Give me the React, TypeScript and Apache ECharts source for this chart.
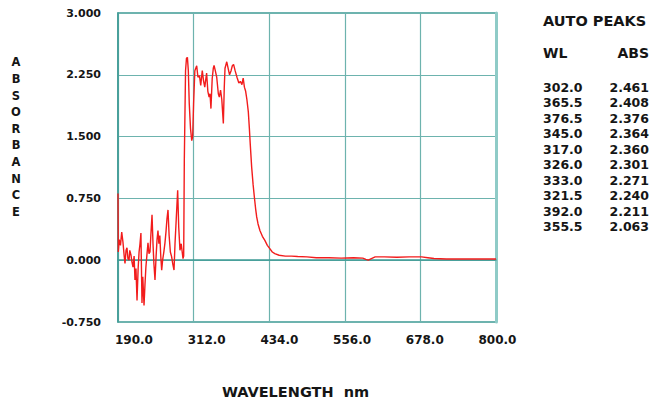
import React, { useEffect, useRef } from "react";
import * as echarts from "echarts";

const wavelengths = [
  190, 190.5, 192, 194, 196, 198, 200, 201.3, 203, 204.5, 206, 207.8, 209, 211, 212.5, 214.2, 216, 217.4, 219, 220.7,
  222.5, 224, 225.5, 227, 228.7, 230, 232, 233.5, 235, 236.5, 238.4, 240, 241.6, 243, 244.9, 246.5, 248, 249.7, 251.5,
  253, 254.5, 256, 257.5, 259, 260.5, 262, 264, 265.8, 267.5, 269, 270.7, 272.5, 274.5, 276.6, 278.5, 280.4, 282, 284,
  286.3, 288, 290, 292, 294.9, 296, 297, 299, 300.5, 302, 303.5, 305, 307, 309, 310.5, 312, 314, 317, 319, 321.5, 323.5,
  326, 328, 330, 333, 335, 337, 338.5, 340, 342, 343.8, 345, 347, 349.3, 351.9, 353.5, 355.5, 357.5, 360, 361.5, 362.7,
  365.5, 368, 370, 372.5, 374.5, 376.5, 379, 382, 385, 387.5, 390, 392, 394, 396, 398, 400.3, 402, 403.5, 405.7, 408,
  410, 412, 413.8, 416, 419, 423, 427, 431, 435, 439, 443, 450, 460, 470, 480, 495, 510, 530, 550, 570, 585, 590, 594,
  598, 605, 620, 640, 660, 680, 690, 700, 720, 750, 780, 800,
];
const absorbance = [
  0.81, 0.1, 0.25, 0.18, 0.34, 0.22, 0.05, -0.04, 0.12, 0.15, 0.02, 0.0, 0.12, 0.06, -0.02, -0.085, 0.05, -0.24, -0.1,
  -0.49, -0.1, 0.1, 0.2, 0.33, -0.52, -0.2, -0.55, -0.3, -0.085, 0.05, 0.21, 0.08, 0.1, 0.3, 0.55, 0.2, -0.05, -0.24,
  0.05, 0.25, 0.36, 0.2, 0.3, 0.05, -0.12, 0.0, 0.1, 0.21, 0.35, 0.5, 0.61, 0.3, 0.1, 0.04, -0.05, -0.12, 0.2, 0.5,
  0.85, 0.4, 0.12, 0.2, 0.02, 0.05, 1.2, 2.3, 2.45, 2.461, 2.3, 1.9, 1.6, 1.45, 1.5, 1.9, 2.3, 2.36, 2.22, 2.24, 2.12,
  2.301, 2.18, 2.1, 2.271, 2.05, 1.98, 2.02, 1.84, 2.2, 2.33, 2.364, 2.3, 2.22, 2.02, 1.98, 2.063, 1.95, 1.66, 2.1,
  2.33, 2.408, 2.32, 2.25, 2.3, 2.36, 2.376, 2.3, 2.22, 2.15, 2.17, 2.13, 2.211, 2.1, 2.05, 1.95, 1.8, 1.6, 1.4, 1.13,
  0.92, 0.77, 0.63, 0.525, 0.44, 0.36, 0.29, 0.24, 0.18, 0.14, 0.1, 0.08, 0.06, 0.05, 0.05, 0.045, 0.04, 0.03, 0.03,
  0.025, 0.03, 0.025, 0.01, 0.0, 0.015, 0.04, 0.04, 0.035, 0.04, 0.04, 0.03, 0.02, 0.015, 0.015, 0.015, 0.015,
];

const xTickLabels = ["190.0", "312.0", "434.0", "556.0", "678.0", "800.0"];
const yTickLabels = ["-0.750", "0.000", "0.750", "1.500", "2.250", "3.000"];

const peakWL = ["302.0", "365.5", "376.5", "345.0", "317.0", "326.0", "333.0", "321.5", "392.0", "355.5"];
const peakAbs = ["2.461", "2.408", "2.376", "2.364", "2.360", "2.301", "2.271", "2.240", "2.211", "2.063"];

const FONT = "DejaVu Sans";
const TEAL = "#3e9a95";
const GRIDLINE = "#6db3ae";
const TEXT = "#151515";

export default function App() {
  const ref = useRef<HTMLDivElement>(null);

  useEffect(() => {
    if (!ref.current) return;
    const chart = echarts.init(ref.current, null, { renderer: "svg" });
    const data = wavelengths.map((w, i) => [w, absorbance[i]]);

    const graphics: any[] = [];
    graphics.push({
      type: "text",
      x: 543,
      y: 21,
      style: { text: "AUTO PEAKS", font: `bold 14.5px "${FONT}"`, fill: TEXT, textVerticalAlign: "middle", textAlign: "left" },
    });
    graphics.push({
      type: "text",
      x: 543,
      y: 53,
      style: { text: "WL", font: `bold 14px "${FONT}"`, fill: TEXT, textVerticalAlign: "middle", textAlign: "left" },
    });
    graphics.push({
      type: "text",
      x: 649,
      y: 53,
      style: { text: "ABS", font: `bold 14px "${FONT}"`, fill: TEXT, textVerticalAlign: "middle", textAlign: "right" },
    });
    peakWL.forEach((w, i) => {
      const y = 87.5 + 15.45 * i;
      graphics.push({
        type: "text",
        x: 543,
        y,
        style: { text: w, font: `bold 12.5px "${FONT}"`, fill: TEXT, textVerticalAlign: "middle", textAlign: "left" },
      });
      graphics.push({
        type: "text",
        x: 649,
        y,
        style: { text: peakAbs[i], font: `bold 12.5px "${FONT}"`, fill: TEXT, textVerticalAlign: "middle", textAlign: "right" },
      });
    });
    graphics.push({
      type: "text",
      x: 16,
      y: 137,
      style: {
        text: "A\nB\nS\nO\nR\nB\nA\nN\nC\nE",
        font: `bold 11.5px "${FONT}"`,
        lineHeight: 16.6,
        fill: TEXT,
        textAlign: "center",
        textVerticalAlign: "middle",
      },
    });
    graphics.push({
      type: "text",
      x: 295.5,
      y: 392,
      style: {
        text: "WAVELENGTH  nm",
        font: `bold 14.5px "${FONT}"`,
        fill: TEXT,
        textAlign: "center",
        textVerticalAlign: "middle",
      },
    });

    chart.setOption({
      animation: false,
      backgroundColor: "#ffffff",
      grid: [
        { left: 118, top: 13, width: 378, height: 309, show: true, borderColor: TEAL, borderWidth: 1.5 },
        { left: 134, top: 13, width: 363.5, height: 309, show: false },
      ],
      xAxis: [
        {
          type: "value",
          gridIndex: 0,
          min: 190,
          max: 800,
          interval: 122,
          axisLine: { show: true, lineStyle: { color: TEAL, width: 1.5 } },
          axisTick: { show: false },
          axisLabel: { show: false },
          splitLine: { show: true, lineStyle: { color: GRIDLINE, width: 1.2 } },
        },
        {
          type: "category",
          gridIndex: 1,
          data: xTickLabels,
          boundaryGap: false,
          axisLine: { show: false },
          axisTick: { show: false },
          splitLine: { show: false },
          axisLabel: {
            show: true,
            interval: 0,
            margin: 12,
            color: TEXT,
            fontFamily: FONT,
            fontWeight: "bold",
            fontSize: 12,
          },
        },
      ],
      yAxis: [
        {
          type: "value",
          gridIndex: 0,
          min: -0.75,
          max: 3,
          interval: 0.75,
          axisLine: { show: true, lineStyle: { color: TEAL, width: 1.5 } },
          axisTick: { show: false },
          splitLine: { show: true, lineStyle: { color: GRIDLINE, width: 1.2 } },
          axisLabel: {
            margin: 17,
            color: TEXT,
            fontFamily: FONT,
            fontWeight: "bold",
            fontSize: 11,
            padding: [6, 0, 0, 0],
            formatter: (v: number) => {
              const idx = Math.round((v + 0.75) / 0.75);
              return yTickLabels[idx] ?? v.toFixed(3);
            },
          },
        },
        {
          type: "value",
          gridIndex: 0,
          position: "right",
          min: -0.75,
          max: 3,
          interval: 0.75,
          axisLine: { show: true, lineStyle: { color: "#8fcbc7", width: 3 } },
          axisTick: { show: false },
          axisLabel: { show: false },
          splitLine: { show: false },
        },
        {
          type: "value",
          gridIndex: 1,
          show: false,
          min: 0,
          max: 1,
        },
      ],
      series: [
        {
          type: "line",
          xAxisIndex: 0,
          yAxisIndex: 0,
          data,
          symbol: "none",
          lineStyle: { color: "#f21c1c", width: 1.4 },
          z: 5,
        },
      ],
      graphic: graphics,
    });

    return () => chart.dispose();
  }, []);

  return (
    <div
      ref={ref}
      style={{ position: "absolute", left: 0, top: 0, width: 655, height: 402 }}
    />
  );
}
